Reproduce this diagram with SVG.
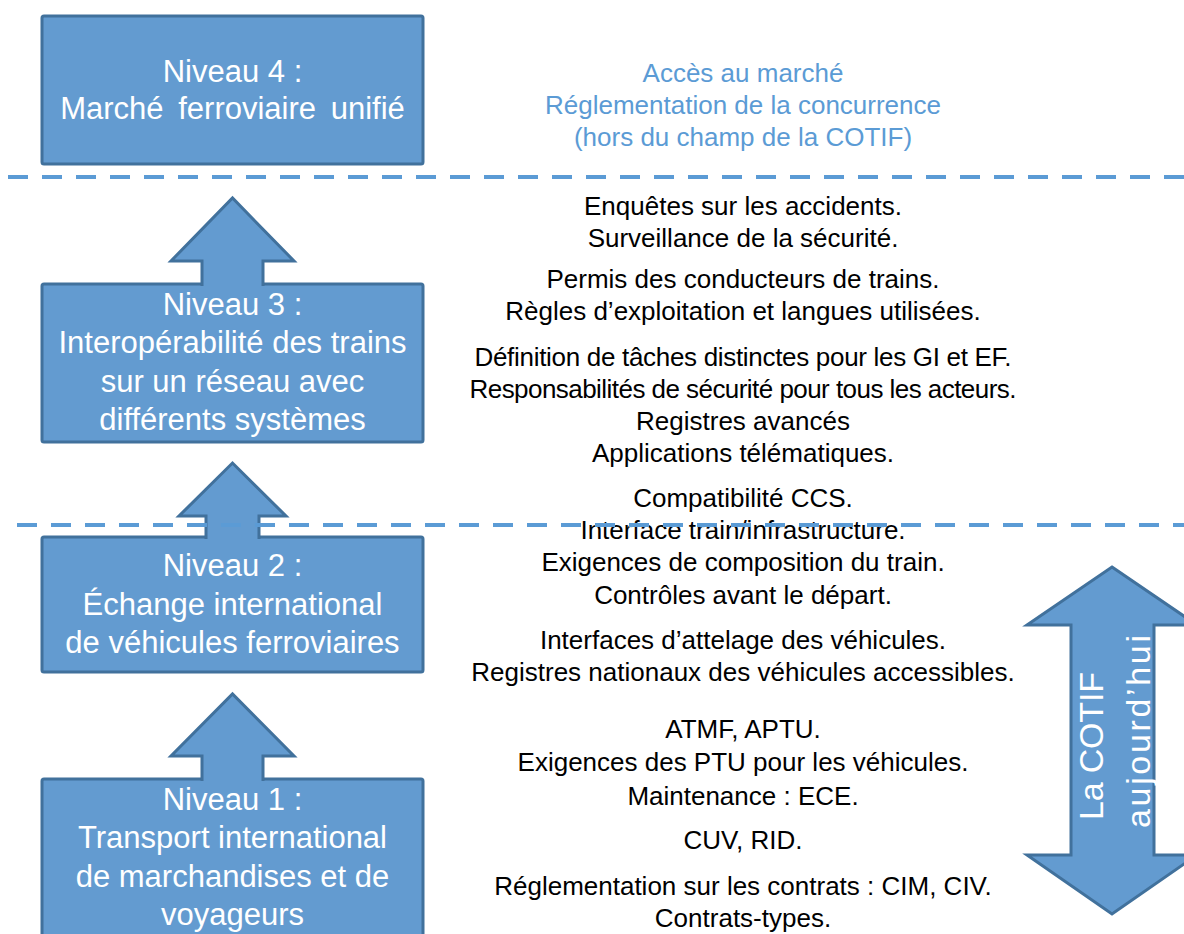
<svg xmlns="http://www.w3.org/2000/svg" width="1184" height="934" viewBox="0 0 1184 934">
<style>
.box{fill:#639BD0;stroke:#41719C;stroke-width:3}
.arr{fill:#639BD0;stroke:#41719C;stroke-width:3;stroke-linejoin:miter}
.bt{font-family:"Liberation Sans",Arial,sans-serif;font-size:31px;fill:#fff;text-anchor:middle}
.rt{font-family:"Liberation Sans",Arial,sans-serif;font-size:26px;fill:#000;text-anchor:middle}
.blue{fill:#5B9BD5}
.vt{font-family:"Liberation Sans",Arial,sans-serif;font-size:34px;fill:#fff}
.dash{stroke:#5B9BD5;stroke-width:4;stroke-dasharray:20 14;fill:none}
</style>
<rect width="1184" height="934" fill="#fff"/>

<g id="niveau4">
<rect class="box" x="42" y="16" width="381" height="148" rx="2"/>
<text class="bt" x="232.5" y="82">Niveau 4 :</text>
<text class="bt" x="232.5" y="119" word-spacing="6">Marché ferroviaire unifié</text>
</g>
<g id="niveau3">
<rect class="box" x="42" y="284" width="381" height="158" rx="2"/>
<text class="bt" x="232.5" y="315">Niveau 3 :</text>
<text class="bt" x="232.5" y="353">Interopérabilité des trains</text>
<text class="bt" x="232.5" y="392">sur un réseau avec</text>
<text class="bt" x="232.5" y="430">différents systèmes</text>
</g>
<g id="niveau2">
<rect class="box" x="42" y="537" width="381" height="135" rx="2"/>
<text class="bt" x="232.5" y="576">Niveau 2 :</text>
<text class="bt" x="232.5" y="615">Échange international</text>
<text class="bt" x="232.5" y="653">de véhicules ferroviaires</text>
</g>
<g id="niveau1">
<rect class="box" x="42" y="779" width="381" height="175" rx="2"/>
<text class="bt" x="232.5" y="810">Niveau 1 :</text>
<text class="bt" x="232.5" y="848">Transport international</text>
<text class="bt" x="232.5" y="887">de marchandises et de</text>
<text class="bt" x="232.5" y="925">voyageurs</text>
</g>

<g id="connectors">
<path class="arr" d="M202,286 V261 H171 L232.5,198 L294,261 H263 V286"/>
<path class="arr" d="M206,539 V516 H179 L232.5,463 L286,516 H259 V539"/>
<path class="arr" d="M202,781 V756 H171 L232.5,694 L294,756 H263 V781"/>
</g>

<g id="cotif-arrow">
<polygon class="arr" points="1112,567 1197,625 1154,625 1154,855 1197,855 1112,914 1027,855 1071,855 1071,625 1027,625"/>
<text class="vt" transform="translate(1103,820) rotate(-90)" textLength="148">La COTIF</text>
<text class="vt" transform="translate(1150,828) rotate(-90)" textLength="193">aujourd’hui</text>
</g>

<g id="notes">
<text class="rt blue" x="743" y="82">Accès au marché</text>
<text class="rt blue" x="743" y="114">Réglementation de la concurrence</text>
<text class="rt blue" x="743" y="146">(hors du champ de la COTIF)</text>

<text class="rt" x="743" y="215">Enquêtes sur les accidents.</text>
<text class="rt" x="743" y="247">Surveillance de la sécurité.</text>
<text class="rt" x="743" y="288">Permis des conducteurs de trains.</text>
<text class="rt" x="743" y="320">Règles d’exploitation et langues utilisées.</text>
<text class="rt" x="743" y="366" textLength="537">Définition de tâches distinctes pour les GI et EF.</text>
<text class="rt" x="743" y="398" textLength="547">Responsabilités de sécurité pour tous les acteurs.</text>
<text class="rt" x="743" y="430">Registres avancés</text>
<text class="rt" x="743" y="462">Applications télématiques.</text>
<text class="rt" x="743" y="507">Compatibilité CCS.</text>
<text class="rt" x="743" y="539">Interface train/infrastructure.</text>
<text class="rt" x="743" y="571">Exigences de composition du train.</text>
<text class="rt" x="743" y="604">Contrôles avant le départ.</text>
<text class="rt" x="743" y="649">Interfaces d’attelage des véhicules.</text>
<text class="rt" x="743" y="681">Registres nationaux des véhicules accessibles.</text>
<text class="rt" x="743" y="738">ATMF, APTU.</text>
<text class="rt" x="743" y="771">Exigences des PTU pour les véhicules.</text>
<text class="rt" x="743" y="805">Maintenance : ECE.</text>
<text class="rt" x="743" y="849">CUV, RID.</text>
<text class="rt" x="743" y="895">Réglementation sur les contrats : CIM, CIV.</text>
<text class="rt" x="743" y="927">Contrats-types.</text>
</g>

<g id="separators">
<line class="dash" x1="8" y1="177" x2="1184" y2="177"/>
<line class="dash" x1="17" y1="525" x2="1184" y2="525"/>
</g>
</svg>
